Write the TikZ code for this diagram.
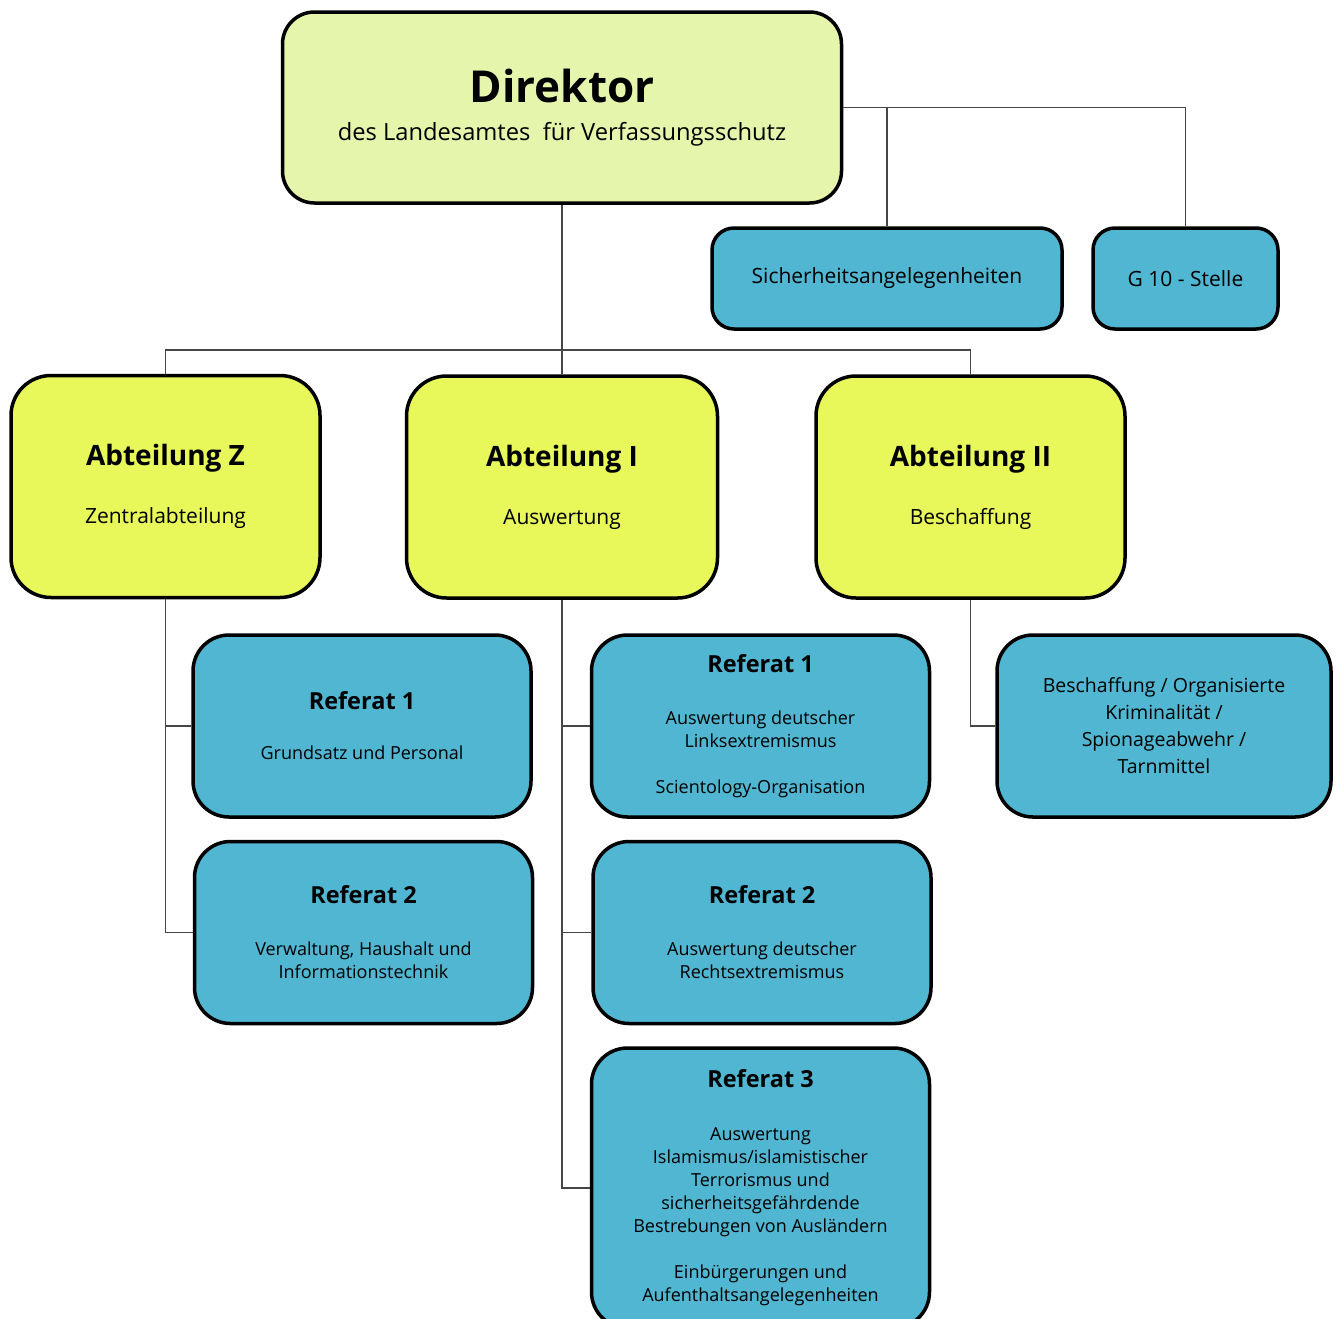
\documentclass[tikz,border=0pt]{standalone}
\usepackage{fontspec}
\setmainfont{Open Sans}
\definecolor{dirgelb}{RGB}{230,245,172}
\definecolor{abtgelb}{RGB}{232,247,90}
\definecolor{refblau}{RGB}{80,182,210}
\definecolor{linie}{RGB}{70,70,70}
\tikzset{
  kasten/.style={draw=black, line width=3.5pt, align=center, inner sep=0pt},
  dirbox/.style={kasten, fill=dirgelb, rounded corners=32pt, minimum width=559pt, minimum height=191pt,
    font=\fontsize{23.7}{38}\selectfont},
  abtbox/.style={kasten, fill=abtgelb, rounded corners=40pt, minimum width=309pt, minimum height=222pt,
    font=\fontsize{21}{58}\selectfont},
  refbox/.style={kasten, fill=refblau, rounded corners=36pt, minimum width=338pt, minimum height=182pt,
    font=\fontsize{18}{23}\selectfont},
  stabbox/.style={kasten, fill=refblau, rounded corners=22pt, minimum height=101pt,
    font=\fontsize{21}{24}\selectfont},
  verbindung/.style={draw=linie, line width=1.3pt},
}
\newcommand{\abttitel}[1]{{\fontsize{28}{28}\selectfont\bfseries #1}}
\newcommand{\reftitel}[1]{{\fontsize{23.5}{23}\selectfont\bfseries #1}}

\begin{document}
\begin{tikzpicture}[x=1pt,y=-1pt]
  \useasboundingbox (0,0) rectangle (1342,1318);
  % Leitung und Stabsstellen
  \node [dirbox] (Dir) at (562,107.5) {{\fontsize{44}{44}\selectfont\bfseries Direktor}\\
    des Landesamtes\ \ für Verfassungsschutz};
  \node [stabbox, minimum width=350pt] (Sich) at (887,278.5) {Sicherheitsangelegenheiten};
  \node [stabbox, minimum width=185pt] (Gzehn) at (1185.5,278.5) {G 10 - Stelle};
  % Abteilungen
  \node [abtbox] (AbtZ) at (165.5,486.5) {\abttitel{Abteilung Z}\\Zentralabteilung};
  \node [abtbox, minimum width=311pt] (AbtI) at (562,487) {\abttitel{Abteilung I}\\Auswertung};
  \node [abtbox] (AbtII) at (970.5,487) {\abttitel{Abteilung II}\\Beschaffung};
  % Referate
  \node [refbox] (ZRefA) at (362,726) {\reftitel{Referat 1}\\[27pt]Grundsatz und Personal};
  \node [refbox] (ZRefB) at (363.5,932.5) {\reftitel{Referat 2}\\[29pt]Verwaltung, Haushalt und\\
    Informationstechnik};
  \node [refbox] (IRefA) at (760.5,726) {\reftitel{Referat 1}\\[29pt]Auswertung deutscher\\
    Linksextremismus\\[23pt]Scientology-Organisation};
  \node [refbox] (IRefB) at (762,932.5) {\reftitel{Referat 2}\\[29pt]Auswertung deutscher\\
    Rechtsextremismus};
  \node [refbox, minimum height=280pt] (IRefC) at (760.5,1188) {\reftitel{Referat 3}\\[30pt]Auswertung\\
    Islamismus/islamistischer\\Terrorismus und\\sicherheitsgefährdende\\
    Bestrebungen von Ausländern\\[23pt]Einbürgerungen und\\Aufenthaltsangelegenheiten};
  \node [refbox, minimum width=334pt, font=\fontsize{19.5}{27}\selectfont] (IIRef) at (1164,726)
    {Beschaffung / Organisierte\\Kriminalität /\\Spionageabwehr /\\Tarnmittel};
  % Verbindungen
  \coordinate (bus) at (562,350);
  \draw [verbindung] (Dir.east) -| (Gzehn.north);
  \draw [verbindung] (Sich.north) |- (Dir.east);
  \draw [verbindung] (Dir.south) -- (AbtI.north);
  \draw [verbindung] (AbtZ.north) |- (bus) -| (AbtII.north);
  \draw [verbindung] (AbtZ.south) |- (ZRefB.west);
  \draw [verbindung] (ZRefA.west) -| (AbtZ.south);
  \draw [verbindung] (AbtI.south) |- (IRefC.west);
  \draw [verbindung] (IRefA.west) -| (AbtI.south);
  \draw [verbindung] (IRefB.west) -| (AbtI.south);
  \draw [verbindung] (AbtII.south) |- (IIRef.west);
\end{tikzpicture}
\end{document}
